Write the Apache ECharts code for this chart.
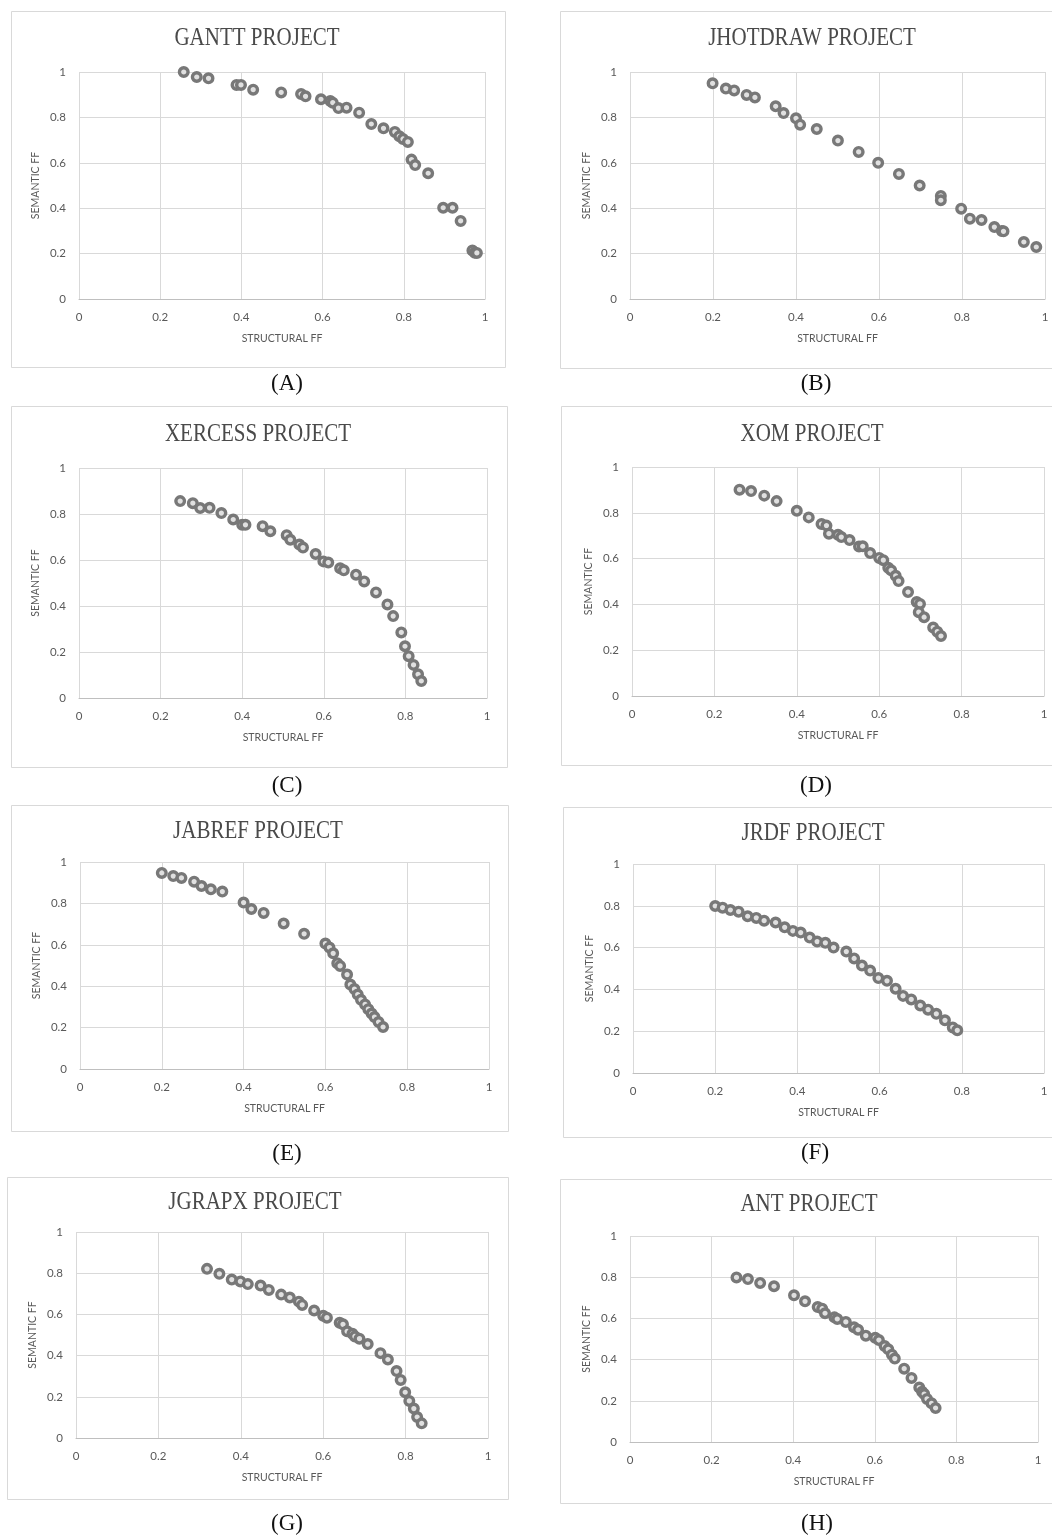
<!DOCTYPE html>
<html><head><meta charset="utf-8">
<script src="https://cdn.jsdelivr.net/npm/echarts@6/dist/echarts.min.js"></script>
<style>html,body{margin:0;padding:0;background:#fff}#c{width:1052px;height:1536px}</style>
</head><body><div id="c"></div>
<script>
// ---- data ----
const titles = ['GANTT PROJECT','JHOTDRAW PROJECT','XERCESS PROJECT','XOM PROJECT','JABREF PROJECT','JRDF PROJECT','JGRAPX PROJECT','ANT PROJECT'];
const captions = ['(A)','(B)','(C)','(D)','(E)','(F)','(G)','(H)'];
const xAxisName = 'STRUCTURAL FF';
const yAxisName = 'SEMANTIC FF';

const ganttStructural = [0.258,0.29,0.319,0.388,0.399,0.429,0.498,0.547,0.558,0.596,0.619,0.625,0.639,0.659,0.69,0.72,0.75,0.778,0.789,0.798,0.81,0.819,0.828,0.86,0.897,0.92,0.94,0.969,0.975,0.98];
const ganttSemantic   = [1.0,0.978,0.972,0.943,0.943,0.922,0.910,0.903,0.893,0.880,0.872,0.865,0.841,0.843,0.821,0.771,0.752,0.736,0.717,0.705,0.692,0.614,0.590,0.554,0.402,0.402,0.344,0.214,0.204,0.203];

const jhotdrawStructural = [0.199,0.231,0.251,0.281,0.301,0.351,0.370,0.4,0.41,0.45,0.501,0.551,0.598,0.648,0.698,0.749,0.749,0.798,0.819,0.847,0.878,0.896,0.9,0.949,0.979];
const jhotdrawSemantic   = [0.95,0.927,0.919,0.899,0.888,0.849,0.819,0.796,0.768,0.749,0.698,0.648,0.600,0.551,0.50,0.454,0.435,0.398,0.354,0.348,0.317,0.300,0.298,0.251,0.229];

const xercessStructural = [0.248,0.279,0.297,0.32,0.349,0.378,0.4,0.408,0.45,0.469,0.509,0.518,0.54,0.549,0.58,0.599,0.611,0.64,0.649,0.679,0.699,0.728,0.756,0.77,0.79,0.799,0.808,0.82,0.831,0.839];
const xercessSemantic   = [0.856,0.847,0.826,0.827,0.804,0.776,0.753,0.753,0.747,0.725,0.708,0.688,0.667,0.654,0.626,0.594,0.589,0.564,0.555,0.536,0.507,0.459,0.407,0.356,0.285,0.225,0.182,0.144,0.103,0.074];

const xomStructural = [0.261,0.289,0.321,0.351,0.4,0.429,0.46,0.472,0.478,0.5,0.508,0.528,0.551,0.560,0.578,0.6,0.610,0.622,0.629,0.64,0.647,0.670,0.691,0.699,0.696,0.709,0.731,0.741,0.750];
const xomSemantic   = [0.901,0.895,0.875,0.851,0.809,0.780,0.751,0.744,0.709,0.704,0.694,0.681,0.653,0.654,0.624,0.603,0.593,0.560,0.549,0.525,0.502,0.454,0.410,0.402,0.366,0.344,0.299,0.281,0.262];

const jabrefStructural = [0.2,0.228,0.248,0.279,0.297,0.320,0.348,0.4,0.419,0.449,0.498,0.548,0.6,0.610,0.619,0.629,0.636,0.653,0.661,0.671,0.679,0.687,0.697,0.705,0.713,0.72,0.73,0.741];
const jabrefSemantic   = [0.947,0.932,0.923,0.905,0.884,0.868,0.857,0.804,0.773,0.754,0.703,0.653,0.606,0.587,0.559,0.511,0.498,0.456,0.408,0.386,0.360,0.334,0.312,0.289,0.268,0.251,0.227,0.203];

const jrdfStructural = [0.2,0.218,0.237,0.257,0.279,0.3,0.319,0.347,0.369,0.389,0.408,0.430,0.448,0.468,0.488,0.519,0.538,0.557,0.577,0.597,0.618,0.639,0.657,0.677,0.699,0.718,0.738,0.759,0.778,0.789];
const jrdfSemantic   = [0.799,0.791,0.780,0.772,0.750,0.742,0.729,0.720,0.697,0.680,0.672,0.648,0.629,0.623,0.600,0.581,0.548,0.514,0.490,0.454,0.441,0.403,0.369,0.352,0.323,0.303,0.283,0.252,0.218,0.204];

const jgrapxStructural = [0.318,0.348,0.378,0.399,0.417,0.448,0.468,0.498,0.519,0.541,0.549,0.578,0.6,0.609,0.640,0.648,0.658,0.671,0.677,0.688,0.708,0.739,0.757,0.778,0.788,0.799,0.809,0.82,0.828,0.839];
const jgrapxSemantic   = [0.821,0.797,0.769,0.760,0.747,0.740,0.719,0.696,0.682,0.662,0.646,0.619,0.593,0.584,0.560,0.552,0.518,0.506,0.493,0.482,0.456,0.412,0.381,0.325,0.282,0.222,0.180,0.143,0.102,0.071];

const antStructural = [0.261,0.289,0.319,0.353,0.402,0.429,0.46,0.471,0.478,0.501,0.508,0.529,0.549,0.559,0.578,0.601,0.610,0.624,0.633,0.642,0.649,0.672,0.690,0.709,0.716,0.721,0.728,0.739,0.749];
const antSemantic   = [0.799,0.791,0.772,0.756,0.712,0.683,0.655,0.647,0.625,0.605,0.597,0.583,0.557,0.545,0.516,0.506,0.495,0.466,0.450,0.424,0.405,0.356,0.311,0.264,0.244,0.233,0.209,0.188,0.165];

const structuralSets = [ganttStructural,jhotdrawStructural,xercessStructural,xomStructural,jabrefStructural,jrdfStructural,jgrapxStructural,antStructural];
const semanticSets   = [ganttSemantic,jhotdrawSemantic,xercessSemantic,xomSemantic,jabrefSemantic,jrdfSemantic,jgrapxSemantic,antSemantic];

// ---- layout (pixels) ----
const layout = [
  {box:[11,11,494,356],   grid:[79,72,406,227],    title:[257,38],   cap:[287,384]},
  {box:[560,11,500,357],  grid:[630,72,415,227],   title:[812,38],   cap:[816,384]},
  {box:[11,406,496,361],  grid:[79,468,408,230],   title:[258,434],  cap:[287,786]},
  {box:[561,406,500,359], grid:[632,467,412,229],  title:[812,434],  cap:[816,786]},
  {box:[11,805,497,326],  grid:[80,862,409,207],   title:[258,831],  cap:[287,1154]},
  {box:[563,807,500,330], grid:[633,864,411,209],  title:[813,833],  cap:[815,1153]},
  {box:[7,1177,501,322],  grid:[76,1232,412,206],  title:[255,1202], cap:[287,1524]},
  {box:[560,1179,500,324],grid:[630,1236,408,206], title:[809,1204], cap:[817,1524]}
];

const LABEL = '#595959';
const grids=[], xAxes=[], yAxes=[], series=[], graphics=[];
layout.forEach((L,i)=>{
  graphics.push({type:'rect', shape:{x:L.box[0]+0.5,y:L.box[1]+0.5,width:L.box[2],height:L.box[3]},
    style:{fill:'none',stroke:'#d9d9d9',lineWidth:1}, z:-1});
  graphics.push({type:'text', x:L.title[0], y:L.title[1], scaleX:0.84,
    style:{text:titles[i], font:'25px "Liberation Serif"', fill:'#4a4a4a', textAlign:'center', textVerticalAlign:'middle'}});
  graphics.push({type:'text', x:L.cap[0], y:L.cap[1],
    style:{text:captions[i], font:'23px "Liberation Serif"', fill:'#111111', textAlign:'center', textVerticalAlign:'middle'}});
  grids.push({left:L.grid[0], top:L.grid[1], width:L.grid[2], height:L.grid[3], containLabel:false});
  const common = {gridIndex:i, type:'value', min:0, max:1, interval:0.2,
    axisTick:{show:false},
    splitLine:{show:true, lineStyle:{color:'#d9d9d9', width:1}},
    axisLabel:{color:LABEL, fontFamily:'Lato', fontSize:11.5},
    nameLocation:'middle',
    nameTextStyle:{color:LABEL, fontFamily:'Lato', fontSize:10.5}};
  xAxes.push(Object.assign({}, common, {name:xAxisName, nameGap:34,
    axisLine:{show:true, lineStyle:{color:'#bfbfbf', width:1}},
    axisLabel:Object.assign({}, common.axisLabel, {margin:12})}));
  yAxes.push(Object.assign({}, common, {name:yAxisName, nameGap:38,
    axisLine:{show:false},
    axisLabel:Object.assign({}, common.axisLabel, {margin:13})}));
  const xs = structuralSets[i], ys = semanticSets[i];
  series.push({type:'scatter', xAxisIndex:i, yAxisIndex:i,
    data: xs.map((x,k)=>[x, ys[k]]),
    symbol:'circle', symbolSize:8.6,
    itemStyle:{color:'#e0e0e0', borderColor:'#787878', borderWidth:3.4, opacity:1},
    emphasis:{disabled:true}, animation:false});
});

const chart = echarts.init(document.getElementById('c'), null, {renderer:'canvas'});
chart.setOption({
  animation:false,
  backgroundColor:'#ffffff',
  grid:grids, xAxis:xAxes, yAxis:yAxes, series:series, graphic:graphics
});
</script></body></html>
